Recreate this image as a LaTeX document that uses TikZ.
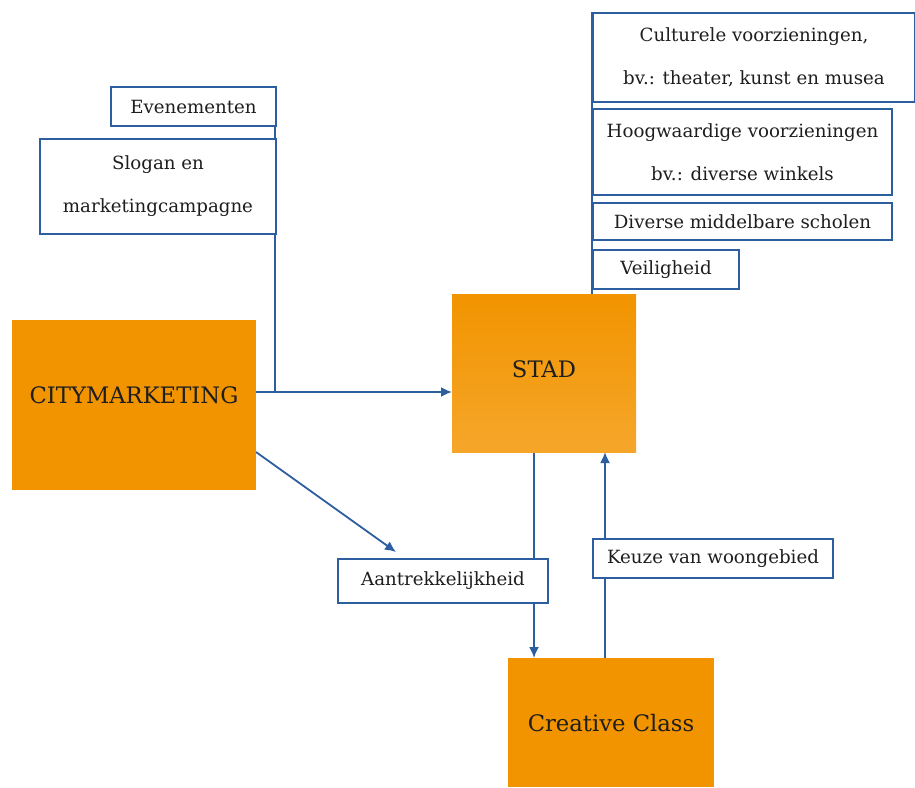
\documentclass[tikz,border=0pt]{standalone}
\usepackage{fontspec}
\setmainfont{DejaVu Serif}
\usetikzlibrary{arrows.meta,backgrounds}
\definecolor{lineblue}{RGB}{44,94,160}
\definecolor{org}{RGB}{242,148,0}
\definecolor{orgl}{RGB}{245,166,42}
\definecolor{txt}{RGB}{30,30,30}
\tikzset{
  wbox/.style={draw=lineblue,line width=2pt,fill=white,anchor=north west,inner sep=0pt,align=center,text=txt,font=\fontsize{18.2}{43}\selectfont},
  obox/.style={fill=org,anchor=north west,inner sep=0pt},
  otext/.style={text=txt,font=\fontsize{22.7}{26}\selectfont},
  conn/.style={draw=lineblue,line width=1.8pt},
  arr/.style={conn,-{Latex[length=11pt,width=10pt]}}
}
\begin{document}
\begin{tikzpicture}[x=1pt,y=-1pt]
\useasboundingbox (0,0) rectangle (915,787);
% left boxes
\node[wbox,minimum width=165,minimum height=39] (even) at (110,86) {Evenementen};
\node[wbox,minimum width=236,minimum height=95] (slog) at (39,138) {Slogan en\\marketingcampagne};
% orange boxes
\node[obox,minimum width=244,minimum height=170] (cm) at (12,320) {};
\node[otext] at (134,395) {CITYMARKETING};
\node[anchor=north west,inner sep=0pt,minimum width=184,minimum height=158,top color=org,bottom color=orgl] (stad) at (452,294) {};
\node[otext] at (544,369) {STAD};
\node[obox,minimum width=206,minimum height=129] (cc) at (508,658) {};
\node[otext] at (611,723) {Creative Class};
% right boxes
\node[wbox,minimum width=322,minimum height=89] (cult) at (592,12) {Culturele voorzieningen,\\bv.: theater, kunst en musea};
\node[wbox,minimum width=299,minimum height=86] (hoog) at (592,108) {Hoogwaardige voorzieningen\\bv.: diverse winkels};
\node[wbox,minimum width=299,minimum height=37] (dive) at (592,202) {Diverse middelbare scholen};
\node[wbox,minimum width=146,minimum height=39] (veil) at (592,249) {Veiligheid};
% label boxes
\node[wbox,minimum width=210,minimum height=44] (aant) at (337,558) {Aantrekkelijkheid};
\node[wbox,minimum width=240,minimum height=39] (keuz) at (592,538) {Keuze van woongebied};
% coordinates
\coordinate (j) at (275,392);
\coordinate (d1) at (256,452);
\coordinate (d2) at (396,552);
\coordinate (s1) at (534,452);
\coordinate (s2) at (605,452);
\begin{scope}[on background layer]
\draw[conn] (j |- even.north) -- (j);
\draw[arr] (cm.east |- j) -- (stad.west |- j);
\draw[conn] (cult.west |- cult.north) -- (cult.west |- stad.north);
\draw[arr] (d1) -- (d2);
\draw[arr] (s1) -- (s1 |- cc.north);
\draw[arr] (s2 |- cc.north) -- (s2);
\end{scope}
\end{tikzpicture}
\end{document}
